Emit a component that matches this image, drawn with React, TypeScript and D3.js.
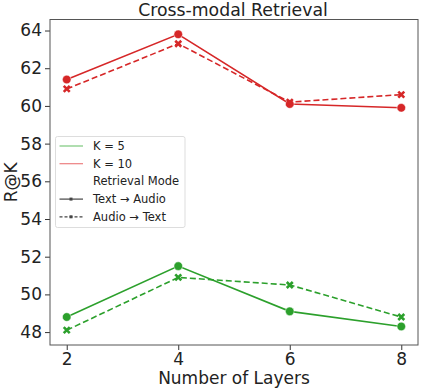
import React, { useEffect, useRef } from 'react'
import * as d3 from 'd3'

const layers = [2, 4, 6, 8]
const k10TextAudio = [61.4, 63.8, 60.1, 59.9]
const k10AudioText = [60.9, 63.3, 60.2, 60.6]
const k5TextAudio = [48.8, 51.5, 49.1, 48.3]
const k5AudioText = [48.1, 50.9, 50.5, 48.8]
const yTicks = [48, 50, 52, 54, 56, 58, 60, 62, 64]

const GREEN = '#2ca02c'
const RED = '#d62728'
const FONT = 'DejaVu Sans, sans-serif'

export default function App() {
  const ref = useRef<SVGSVGElement>(null)

  useEffect(() => {
    const svg = d3.select(ref.current)
    svg.selectAll('*').remove()
    const W = 423, H = 389
    const marge = { left: 50, right: 5, top: 19.5, bottom: 44 }
    const iw = W - marge.left - marge.right
    const ih = H - marge.top - marge.bottom

    const all = [...k10TextAudio, ...k10AudioText, ...k5TextAudio, ...k5AudioText]
    const lo = d3.min(all)!, hi = d3.max(all)!
    const pad = (hi - lo) * 0.05
    const xScale = d3.scaleLinear().domain([1.7, 8.3]).range([0, iw])
    const yScale = d3.scaleLinear().domain([lo - pad, hi + pad]).range([ih, 0])

    const g = svg.append('g').attr('transform', `translate(${marge.left},${marge.top})`)

    const xAxis = g.append('g')
      .attr('transform', `translate(0,${ih})`)
      .call(d3.axisBottom(xScale).tickValues(layers).tickSize(5).tickPadding(3).tickFormat(d3.format('d')))
    const yAxis = g.append('g')
      .call(d3.axisLeft(yScale).tickValues(yTicks).tickSize(5).tickPadding(3).tickFormat(d3.format('d')))
    for (const ax of [xAxis, yAxis]) {
      ax.select('.domain').remove()
      ax.selectAll('line').attr('stroke', '#333').attr('stroke-width', 1)
      ax.selectAll('text').attr('font-family', FONT).attr('font-size', 17).attr('fill', '#222')
    }

    const line = d3.line<number>()
      .x((d, i) => xScale(layers[i]))
      .y(d => yScale(d))

    const series = [
      { vals: k5TextAudio, color: GREEN, dash: null, marker: 'o' },
      { vals: k5AudioText, color: GREEN, dash: '6,3', marker: 'x' },
      { vals: k10TextAudio, color: RED, dash: null, marker: 'o' },
      { vals: k10AudioText, color: RED, dash: '6,3', marker: 'x' },
    ]

    series.forEach(s => {
      g.append('path')
        .datum(s.vals)
        .attr('d', line)
        .attr('fill', 'none')
        .attr('stroke', s.color)
        .attr('stroke-width', 1.6)
        .attr('stroke-dasharray', s.dash)
      const pts = g.selectAll(null).data(s.vals).enter()
      if (s.marker === 'o') {
        pts.append('circle')
          .attr('cx', (d, i) => xScale(layers[i]))
          .attr('cy', d => yScale(d))
          .attr('r', 4.3)
          .attr('fill', s.color)
          .attr('stroke', 'white')
          .attr('stroke-width', 0.5)
      } else {
        pts.append('path')
          .attr('transform', (d, i) => `translate(${xScale(layers[i])},${yScale(d)})`)
          .attr('d', 'M-3,-3L3,3M-3,3L3,-3')
          .attr('stroke', s.color)
          .attr('stroke-width', 2.6)
      }
    })

    // frame
    g.append('rect')
      .attr('width', iw).attr('height', ih)
      .attr('fill', 'none').attr('stroke', '#555').attr('stroke-width', 1)

    // title + labels
    svg.append('text')
      .attr('x', marge.left + iw / 2 - 1).attr('y', 16)
      .attr('text-anchor', 'middle')
      .attr('font-family', FONT).attr('font-size', 17.3).attr('fill', '#222')
      .text('Cross-modal Retrieval')
    svg.append('text')
      .attr('x', marge.left + iw / 2).attr('y', 384)
      .attr('text-anchor', 'middle')
      .attr('font-family', FONT).attr('font-size', 17).attr('fill', '#222')
      .text('Number of Layers')
    svg.append('text')
      .attr('transform', `translate(17,${marge.top + ih / 2}) rotate(-90)`)
      .attr('text-anchor', 'middle')
      .attr('font-family', FONT).attr('font-size', 17).attr('fill', '#222')
      .text('R@K')

    // legend
    const lg = svg.append('g').attr('transform', 'translate(55.5,136.5)')
    lg.append('rect')
      .attr('width', 129.5).attr('height', 91).attr('rx', 2)
      .attr('fill', 'white').attr('fill-opacity', 0.8)
      .attr('stroke', '#ddd').attr('stroke-width', 1)
    const items = [
      { label: 'K = 5', color: '#7cc97c', dash: null, mk: false },
      { label: 'K = 10', color: '#ec7f80', dash: null, mk: false },
      { label: 'Retrieval Mode', color: null, dash: null, mk: false },
      { label: 'Text \u2192 Audio', color: '#444', dash: null, mk: true },
      { label: 'Audio \u2192 Text', color: '#444', dash: '3,2', mk: true },
    ]
    items.forEach((it, i) => {
      const y = 9.5 + i * 17.7
      if (it.color) {
        lg.append('line')
          .attr('x1', 4).attr('x2', 27.5).attr('y1', y).attr('y2', y)
          .attr('stroke', it.color).attr('stroke-width', 1.2)
          .attr('stroke-dasharray', it.dash)
      }
      if (it.mk) {
        lg.append('rect')
          .attr('x', 14).attr('y', y - 1.5).attr('width', 3).attr('height', 3)
          .attr('fill', '#444')
      }
      lg.append('text')
        .attr('x', 37.5).attr('y', y + 4)
        .attr('font-family', FONT).attr('font-size', 11.5).attr('fill', '#222')
        .text(it.label)
    })
  }, [])

  return (
    <div>
      <svg ref={ref} width="423" height="389" style={{ display: 'block', position: 'absolute', left: 0, top: 0 }} />
    </div>
  )
}
